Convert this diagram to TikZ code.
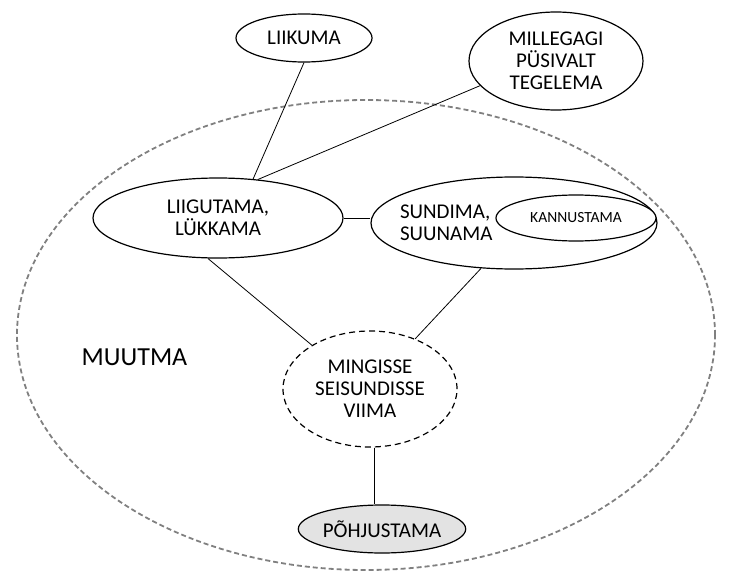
\documentclass[tikz,border=0pt]{standalone}
\usepackage{fontspec}
\setmainfont{Carlito}
\usetikzlibrary{shapes.geometric}
\begin{document}
\begin{tikzpicture}[x=1pt,y=-1pt,
  concept/.style={ellipse,draw,line width=1.2pt,fill=white,inner sep=0pt,
    align=center,font=\fontsize{21}{22}\selectfont},
  link/.style={line width=0.8pt}]
\useasboundingbox (0,0) rectangle (731,578);
% outer domain
\node[ellipse, draw=gray, dash pattern=on 5pt off 3pt, line width=1.8pt,
  minimum width=698pt, minimum height=470pt, inner sep=0pt] (domain) at (366,335) {};
\node[font=\fontsize{26}{28}\selectfont] (muutma) at (134.5,357) {MUUTMA};
% concepts
\node[concept, minimum width=136pt, minimum height=48pt] (LK) at (304,38) {LIIKUMA};
\node[concept, minimum width=174pt, minimum height=98pt] (MG) at (556,61) {MILLEGAGI\\PÜSIVALT\\TEGELEMA};
\node[concept, minimum width=250pt, minimum height=80pt] (LG) at (218,218) {LIIGUTAMA,\\LÜKKAMA};
\node[concept, minimum width=286pt, minimum height=92pt, text width=100pt, align=left] (S) at (514,223) {\hspace*{-64pt}SUNDIMA,\\\hspace*{-64pt}SUUNAMA};
\node[concept, minimum width=160pt, minimum height=46pt, font=\fontsize{15.5}{18}\selectfont] (K) at (576,218) {KANNUSTAMA};
\node[concept, dash pattern=on 6pt off 4pt, minimum width=174pt, minimum height=116pt] (MI) at (370,389) {MINGISSE\\SEISUNDISSE\\VIIMA};
\node[concept, fill=gray!22, minimum width=166pt, minimum height=48pt] (P) at (382,529) {PÕHJUSTAMA};
% connections
\draw[link] (LK.south) -- (LG.48);
\draw[link] (MG.198) -- (LG.44);
\draw[link] (LG.east) -- (S.west |- LG.east);
\draw[link] (LG.256) -- (MI.143);
\draw[link] (S.234) -- (MI.48);
\draw[link] (MI.-86) -- (MI.-86 |- P.north);
\end{tikzpicture}
\end{document}
